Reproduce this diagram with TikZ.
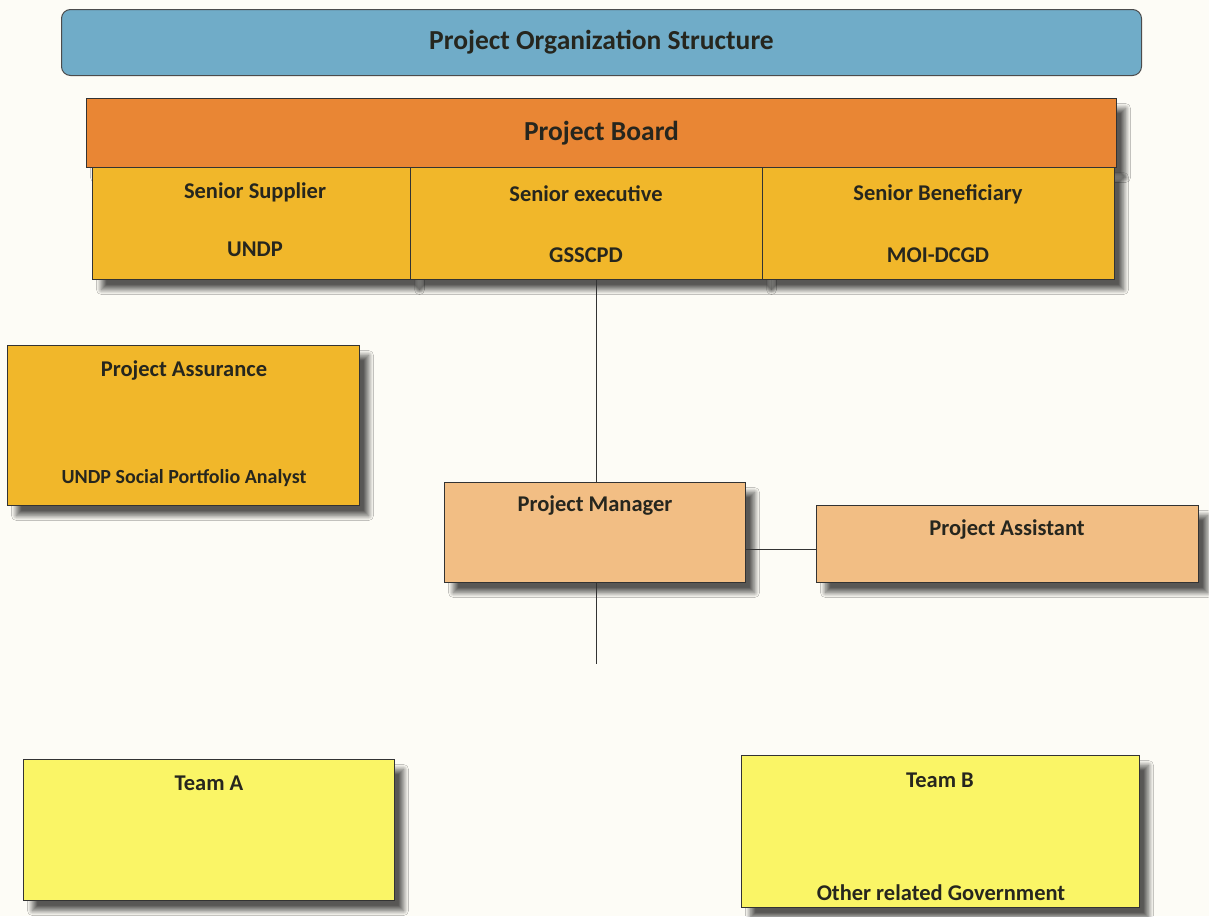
\documentclass[tikz,border=0pt]{standalone}
\usepackage{fontspec}
\setmainfont{Carlito}
\usetikzlibrary{shadows.blur}

\begin{document}
\begin{tikzpicture}[x=1pt,y=-1pt,
		box/.style={draw=black!80, line width=1pt, rectangle, inner sep=0pt,
			blur shadow={shadow xshift=9pt, shadow yshift=-10pt, shadow blur radius=5pt, shadow blur steps=10, shadow opacity=65}},
		lbl/.style={font=\bfseries\fontsize{22.5}{26}\selectfont, text=textDark, inner sep=0pt}]

		\definecolor{paper}{RGB}{253,252,246}
		\definecolor{textDark}{RGB}{38,38,30}
		\definecolor{titleBlue}{RGB}{112,172,200}
		\definecolor{boardOrange}{RGB}{233,134,52}
		\definecolor{seniorGold}{RGB}{241,183,42}
		\definecolor{managerPeach}{RGB}{242,190,132}
		\definecolor{teamYellow}{RGB}{250,245,102}

		\fill[paper] (0,0) rectangle (1209,916);
		\useasboundingbox (0,0) rectangle (1209,916);

		% title bar
		\node[draw=black!70, line width=1pt, fill=titleBlue, rounded corners=9pt, anchor=north west,
			minimum width=1080pt, minimum height=66pt, inner sep=0pt,
			font=\bfseries\fontsize{27.5}{32}\selectfont, text=textDark] (title) at (61,9) {Project Organization Structure};

		% board and its three seats
		\node[box, fill=boardOrange, anchor=north west, minimum width=1030pt, minimum height=69pt,
			font=\bfseries\fontsize{27.5}{32}\selectfont, text=textDark] (board) at (86,98) {Project Board};
		\node[box, fill=seniorGold, anchor=north west, minimum width=318pt, minimum height=112pt] (supplier) at (92,167) {};
		\node[box, fill=seniorGold, anchor=north west, minimum width=352pt, minimum height=112pt] (exec) at (410,167) {};
		\node[box, fill=seniorGold, anchor=north west, minimum width=352pt, minimum height=112pt] (benef) at (762,167) {};
			\node[lbl] (supplierRole) at (255,192) {Senior Supplier};
			\node[lbl] (supplierOrg) at (255,249) {UNDP};
			\node[lbl] (execRole) at (586,194) {Senior executive};
			\node[lbl] (execOrg) at (586,255) {GSSCPD};
			\node[lbl] (benefRole) at (938,194) {Senior Beneficiary};
			\node[lbl] (benefOrg) at (938,255) {MOI-DCGD};

		% assurance
		\node[box, fill=seniorGold, anchor=north west, minimum width=352pt, minimum height=160pt] (assurance) at (7,345) {};
			\node[lbl] (assuranceRole) at (184,370) {Project Assurance};
			\node[lbl, font=\bfseries\fontsize{20}{24}\selectfont] (assuranceOrg) at (184,478) {UNDP Social Portfolio Analyst};

		% manager and assistant
		\node[box, fill=managerPeach, anchor=north west, minimum width=301pt, minimum height=100pt] (manager) at (444,482) {};
			\node[lbl] (managerRole) at (595,506) {Project Manager};
		\node[box, fill=managerPeach, anchor=north west, minimum width=382pt, minimum height=77pt] (assistant) at (816,505) {};
			\node[lbl] (assistantRole) at (1007,529) {Project Assistant};

		% teams
		\node[box, fill=teamYellow, anchor=north west, minimum width=371pt, minimum height=141pt] (teamA) at (23,759) {};
			\node[lbl] (teamATitle) at (209,783) {Team A};
		\node[box, fill=teamYellow, anchor=north west, minimum width=398pt, minimum height=152pt] (teamB) at (741,755) {};
			\node[lbl] (teamBTitle) at (940,780) {Team B};
			\node[lbl] (teamBOrg) at (941,893) {Other related Government};

		% connectors
		\coordinate (managerEnd) at (596,664);
		\draw[black!80, line width=1pt] (exec.south -| managerEnd) -- (manager.north -| managerEnd);
		\draw[black!80, line width=1pt] (manager.south -| managerEnd) -- (managerEnd);
		\draw[black!80, line width=1pt] (manager.east |- 0,549) -- (assistant.west |- 0,549);

	\end{tikzpicture}
\end{document}
